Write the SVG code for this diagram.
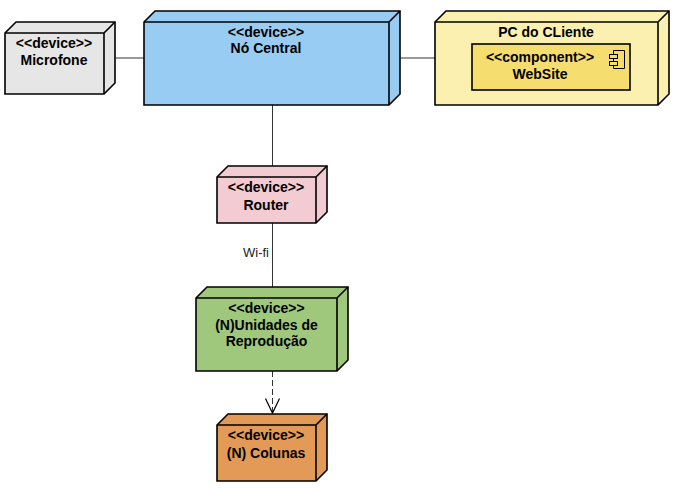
<svg xmlns="http://www.w3.org/2000/svg" width="674" height="488" viewBox="0 0 674 488">
<style>
.b{stroke:#000;stroke-width:1.6;stroke-linejoin:miter}
.c{stroke:#000;stroke-width:1;fill:none;opacity:.8}
text{font-family:"Liberation Sans",Arial,sans-serif;font-size:14px;font-weight:bold;text-anchor:middle;fill:#000}
.l{font-weight:normal;font-size:13px;fill:#222}
</style>
<rect width="674" height="488" fill="#fff"/>
<g id="connectors">
<path class="c" d="M115.500 58H144"/>
<path class="c" d="M400.500 58H435"/>
<path class="c" d="M272.500 105V166"/>
<path class="c" d="M272.500 223V287"/>
<path class="c" d="M272.500 371V413" stroke-dasharray="6 3"/>
<path class="c" d="M265.500 398.500L272.500 413L279.500 398.500" style="opacity:1;stroke-width:1.2"/>
<text class="l" x="256" y="257">Wi-fi</text>
</g>
<g id="microfone">
<path class="b" fill="#e6e6e6" d="M5 33L16 22H115V83L104 94H5Z"/>
<path class="b" fill="none" d="M5 33H104V94M104 33L115 22"/>
<text x="54" y="48">&lt;&lt;device&gt;&gt;</text>
<text x="54" y="65">Microfone</text>
</g>
<g id="no-central">
<path class="b" fill="#99ccf3" d="M144 22L155 11H400V94L389 105H144Z"/>
<path class="b" fill="none" d="M144 22H389V105M389 22L400 11"/>
<text x="266" y="37">&lt;&lt;device&gt;&gt;</text>
<text x="266" y="53">Nó Central</text>
</g>
<g id="pc-cliente">
<path class="b" fill="#fbf0b0" d="M435 22L446 11H669V94L658 105H435Z"/>
<path class="b" fill="none" d="M435 22H658V105M658 22L669 11"/>
<text x="546" y="37">PC do CLiente</text>
<g id="website">
<rect class="b" x="472" y="44" width="158" height="46" fill="#f5dd70"/>
<text x="540" y="62">&lt;&lt;component&gt;&gt;</text>
<text x="540" y="79">WebSite</text>
<path d="M613.500 50.500H624.500V68.500H613.500Z" fill="none" stroke="#000" stroke-width="1"/>
<rect x="609.500" y="54.500" width="8" height="4" fill="#f5dd70" stroke="#000" stroke-width="1"/>
<rect x="609.500" y="61.500" width="8" height="4" fill="#f5dd70" stroke="#000" stroke-width="1"/>
</g>
</g>
<g id="router">
<path class="b" fill="#f3cbd3" d="M217 177L228 166H327V212L316 223H217Z"/>
<path class="b" fill="none" d="M217 177H316V223M316 177L327 166"/>
<text x="266" y="192">&lt;&lt;device&gt;&gt;</text>
<text x="266" y="210">Router</text>
</g>
<g id="unidades">
<path class="b" fill="#9fc87d" d="M196 298L207 287H348V360L337 371H196Z"/>
<path class="b" fill="none" d="M196 298H337V371M337 298L348 287"/>
<text x="266.500" y="313">&lt;&lt;device&gt;&gt;</text>
<text x="266.500" y="330">(N)Unidades de</text>
<text x="266.500" y="346">Reprodução</text>
</g>
<g id="colunas">
<path class="b" fill="#e29a56" d="M217 425L228 414H327V470L316 481H217Z"/>
<path class="b" fill="none" d="M217 425H316V481M316 425L327 414"/>
<text x="266" y="440">&lt;&lt;device&gt;&gt;</text>
<text x="266" y="458">(N) Colunas</text>
</g>
</svg>
